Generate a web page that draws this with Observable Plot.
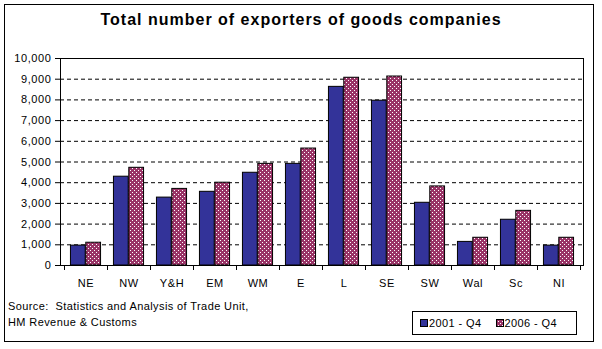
<!DOCTYPE html>
<html>
<head>
<meta charset="utf-8">
<script src="https://cdn.jsdelivr.net/npm/d3@7"></script>
<script src="https://cdn.jsdelivr.net/npm/@observablehq/plot@0.6"></script>
<style>
  html, body { margin: 0; padding: 0; background: #fff; }
  #wrap { position: relative; width: 602px; height: 349px; font-family: "Liberation Sans", Arial, sans-serif; overflow: hidden; }
  #border { position: absolute; left: 4px; top: 4px; width: 590px; height: 338px; border: 1px solid #000; box-sizing: border-box; pointer-events: none; }
  #title { position: absolute; left: 0; width: 602px; top: 11px; text-align: center; font-size: 16px; font-weight: bold; letter-spacing: 1px; color: #000; }
  #source { position: absolute; left: 8px; top: 298px; font-size: 11px; line-height: 16px; letter-spacing: 0.4px; color: #000; }
  #legend { position: absolute; left: 412px; top: 311px; width: 165px; height: 24px; border: 1px solid #000; box-sizing: border-box; font-size: 11px; letter-spacing: 0.4px; display: flex; align-items: center; }
  #legend .item { display: flex; align-items: center; margin-left: 7px; }
  #legend .item + .item { margin-left: 14px; }
  #legend svg { margin-right: 1px; }
  #plot { position: absolute; left: 0; top: 0; }
</style>
</head>
<body>
<div id="wrap">
  <div id="plot"></div>
  <div id="title">Total number of exporters of goods companies</div>
  <div id="source">Source:&nbsp; Statistics and Analysis of Trade Unit,<br>HM Revenue &amp; Customs</div>
  <div id="legend"></div>
  <div id="border"></div>
</div>
<script>
const regions = ["NE", "NW", "Y&H", "EM", "WM", "E", "L", "SE", "SW", "Wal", "Sc", "NI"];
const series = ["2001 - Q4", "2006 - Q4"];
const values2001 = [960, 4290, 3280, 3560, 4480, 4910, 8630, 7960, 3030, 1140, 2210, 960];
const values2006 = [1100, 4720, 3700, 4000, 4910, 5650, 9070, 9130, 3820, 1340, 2640, 1340];
const yTicks = [0, 1000, 2000, 3000, 4000, 5000, 6000, 7000, 8000, 9000, 10000];
const gridTicks = [1000, 2000, 3000, 4000, 5000, 6000, 7000, 8000, 9000];

const blue = "#333399";
const purple = "#993366";

const rows2001 = regions.map((r, i) => ({region: r, series: series[0], value: values2001[i]}));
const rows2006 = regions.map((r, i) => ({region: r, series: series[1], value: values2006[i]}));

const W = 602, H = 349;
const mL = 60, mR = 19, mT = 58, mB = 84;
const band = (W - mL - mR) / regions.length;
const outer = band * 0.148;
const barW = (band - 2 * outer) / 2;

function addPattern(svgSel, id) {
  const defs = svgSel.insert("defs", ":first-child");
  const p = defs.append("pattern")
    .attr("id", id)
    .attr("patternUnits", "userSpaceOnUse")
    .attr("x", 0).attr("y", 0)
    .attr("width", 4).attr("height", 4);
  p.append("rect").attr("x", 0).attr("y", 0).attr("width", 4).attr("height", 4)
    .attr("fill", purple).attr("stroke", "none");
  p.append("rect").attr("x", 0).attr("y", 0).attr("width", 1).attr("height", 1)
    .attr("fill", "#ffffff").attr("stroke", "none");
  p.append("rect").attr("x", 2).attr("y", 2).attr("width", 1).attr("height", 1)
    .attr("fill", "#ffffff").attr("stroke", "none");
}

const chart = Plot.plot({
  width: W,
  height: H,
  marginLeft: mL,
  marginRight: mR,
  marginTop: mT,
  marginBottom: mB,
  style: {fontFamily: "'Liberation Sans', Arial, sans-serif", fontSize: "11px", color: "#000", background: "transparent", letterSpacing: "0.6px"},
  x: {domain: regions, padding: 0, label: null},
  y: {domain: [0, 10000], label: null},
  marks: [
    Plot.ruleY(gridTicks, {stroke: "#000", strokeWidth: 1, strokeDasharray: "4,3"}),
    Plot.barY(rows2001, {x: "region", y: "value", fill: blue, stroke: "#000", strokeWidth: 1, insetLeft: outer, insetRight: outer + barW}),
    Plot.barY(rows2006, {x: "region", y: "value", fill: purple, stroke: "#000", strokeWidth: 1, insetLeft: outer + barW, insetRight: outer}),
    Plot.frame({stroke: "#000", strokeWidth: 1}),
    Plot.axisY({ticks: yTicks, tickFormat: d3.format(","), tickSize: 5, tickPadding: 4, fontSize: 11, stroke: "#000"}),
    Plot.axisX({tickSize: 0, tickPadding: 14, fontSize: 11})
  ]
});

const svg = d3.select(chart);
addPattern(svg, "chk");
// apply the checker pattern to the 2006 series bars (second bar mark)
svg.selectAll("g[aria-label='bar']").filter((d, i) => i === 1)
  .attr("fill", "url(#chk)")
  .selectAll("rect").attr("fill", "url(#chk)");

// category boundary ticks below the x axis, positioned with the plot's own x scale
const xs = chart.scale("x");
const bw = xs.bandwidth;
const boundaries = regions.map(r => xs.apply(r)).concat([xs.apply(regions[regions.length - 1]) + bw]);
const yBase = chart.scale("y").apply(0);
svg.append("g")
  .attr("stroke", "#000")
  .selectAll("line")
  .data(boundaries)
  .join("line")
  .attr("x1", d => Math.round(d) + 0.5)
  .attr("x2", d => Math.round(d) + 0.5)
  .attr("y1", yBase)
  .attr("y2", yBase + 5);

document.getElementById("plot").appendChild(chart);

// legend
const legend = d3.select("#legend");
const items = [{label: series[0], fill: blue}, {label: series[1], fill: "url(#chkL)"}];
items.forEach((it, i) => {
  const div = legend.append("div").attr("class", "item");
  const s = div.append("svg").attr("width", 8).attr("height", 8);
  if (i === 1) addPattern(s, "chkL");
  s.append("rect").attr("x", 0.5).attr("y", 0.5).attr("width", 7).attr("height", 7)
    .attr("fill", it.fill).attr("stroke", "#000").attr("stroke-width", 1);
  div.append("span").text(it.label);
});
</script>
</body>
</html>
